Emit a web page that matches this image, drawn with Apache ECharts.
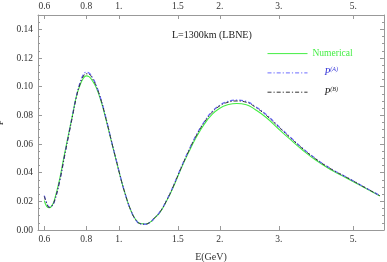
<!DOCTYPE html>
<html><head><meta charset="utf-8">
<script src="https://cdn.jsdelivr.net/npm/echarts@6/dist/echarts.min.js"></script>
<style>html,body{margin:0;padding:0;background:#fff}#c{width:387px;height:262px}</style>
</head><body><div id="c"></div>
<script>
// Energy (GeV)
const energies = [0.600,0.610,0.621,0.632,0.643,0.665,0.689,0.713,0.730,0.746,0.765,0.785,0.800,0.815,0.835,0.856,0.885,0.917,0.950,0.982,1.015,1.051,1.085,1.121,1.160,1.198,1.240,1.280,1.328,1.390,1.454,1.523,1.612,1.700,1.800,1.900,2.000,2.100,2.247,2.400,2.548,2.750,3.000,3.250,3.500,3.850,4.300,4.750,5.300,6.000];
const pNumerical = [0.0205,0.0165,0.0155,0.0170,0.0210,0.0345,0.0530,0.0700,0.0815,0.0925,0.1005,0.1060,0.1075,0.1070,0.1040,0.0995,0.0900,0.0767,0.0620,0.0488,0.0355,0.0232,0.0140,0.0075,0.0045,0.0042,0.0055,0.0085,0.0125,0.0205,0.0300,0.0412,0.0538,0.0645,0.0740,0.0808,0.0850,0.0872,0.0883,0.0874,0.0841,0.0785,0.0703,0.0630,0.0565,0.0490,0.0418,0.0365,0.0305,0.0237];
const pA = [0.0240,0.0190,0.0160,0.0168,0.0200,0.0330,0.0515,0.0695,0.0815,0.0925,0.1020,0.1085,0.1100,0.1095,0.1062,0.1010,0.0910,0.0775,0.0625,0.0490,0.0357,0.0233,0.0140,0.0074,0.0043,0.0040,0.0054,0.0086,0.0128,0.0210,0.0307,0.0420,0.0550,0.0660,0.0757,0.0828,0.0871,0.0895,0.0906,0.0896,0.0863,0.0805,0.0721,0.0646,0.0578,0.0500,0.0426,0.0371,0.0309,0.0240];
const pB = [0.0235,0.0185,0.0158,0.0168,0.0202,0.0332,0.0515,0.0690,0.0808,0.0917,0.1012,0.1075,0.1090,0.1087,0.1055,0.1005,0.0908,0.0772,0.0624,0.0490,0.0356,0.0233,0.0140,0.0075,0.0044,0.0041,0.0055,0.0086,0.0127,0.0208,0.0305,0.0417,0.0546,0.0656,0.0752,0.0823,0.0866,0.0889,0.0900,0.0891,0.0858,0.0800,0.0717,0.0642,0.0575,0.0498,0.0424,0.0370,0.0308,0.0239];
const xTickValues = [0.6,0.8,1,1.5,2,3,5];
const xTickLabels = ['0.6','0.8','1.','1.5','2.','3.','5.'];
const xRange = [0.5745, 6.17];
const yTickValues = [0,0.02,0.04,0.06,0.08,0.10,0.12,0.14];
const yMinorTicks = [0.005,0.01,0.015,0.025,0.03,0.035,0.045,0.05,0.055,0.065,0.07,0.075,0.085,0.09,0.095,0.105,0.11,0.115,0.125,0.13,0.135,0.145];
const yRange = [0, 0.15];

const FONT = '"Liberation Serif", "DejaVu Serif", serif';
const FRAME = '#999999';
const TXT = '#333333';
const GREEN = '#44ee44';
const BLUE = '#6b6bff';
const BLUE_TXT = '#3535d8';
const BLACK = '#333333';

const lg = v => Math.log10(v);
const xTickLog = xTickValues.map(lg);
const labelFor = v => {
  let best = 0, d = Infinity;
  xTickLog.forEach((t, i) => { const dd = Math.abs(t - v); if (dd < d) { d = dd; best = i; } });
  return xTickLabels[best];
};
const toData = arr => energies.map((e, i) => [lg(e), arr[i]]);

const xBase = (pos, showLabel) => ({
  type: 'value', gridIndex: 0, position: pos,
  min: lg(xRange[0]), max: lg(xRange[1]),
  splitLine: { show: false },
  axisLine: { show: true, onZero: false, lineStyle: { color: FRAME, width: 1 } },
  axisTick: { show: true, inside: true, length: 4, customValues: xTickLog, lineStyle: { color: FRAME } },
  axisLabel: { show: showLabel, customValues: xTickLog, formatter: labelFor, fontFamily: FONT, fontSize: 9.5, color: TXT, margin: 4 }
});

const yBase = (grid, pos, major, showLabel) => ({
  type: 'value', gridIndex: grid, position: pos,
  min: yRange[0], max: yRange[1],
  splitLine: { show: false },
  axisLine: { show: major, onZero: false, lineStyle: { color: FRAME, width: 1 } },
  axisTick: { show: true, inside: true, length: major ? 4 : 2, customValues: major ? yTickValues : yMinorTicks, lineStyle: { color: FRAME } },
  axisLabel: { show: showLabel, customValues: yTickValues, formatter: v => v.toFixed(2), fontFamily: FONT, fontSize: 9.5, color: TXT, margin: 5 }
});

const yLeft = yBase(0, 'left', true, true);
yLeft.name = 'P';
yLeft.nameLocation = 'middle';
yLeft.nameGap = 25;
yLeft.nameTextStyle = { fontFamily: FONT, fontSize: 10, color: TXT };

const xBottom = xBase('bottom', true);
xBottom.name = 'E(GeV)';
xBottom.nameLocation = 'middle';
xBottom.nameGap = 22;
xBottom.nameTextStyle = { fontFamily: FONT, fontSize: 10, color: TXT };

const gridRect = { left: 38, top: 15, right: 3, bottom: 32, containLabel: false, outerBoundsMode: 'none' };

const chart = echarts.init(document.getElementById('c'), null, { renderer: 'canvas' });
chart.setOption({
  animation: false,
  backgroundColor: '#ffffff',
  grid: [Object.assign({}, gridRect), Object.assign({}, gridRect)],
  xAxis: [
    xBottom,
    xBase('top', true),
    { type: 'value', gridIndex: 1, show: false, min: 0, max: 1 }
  ],
  yAxis: [
    yLeft,
    yBase(0, 'right', true, false),
    yBase(1, 'left', false, false),
    yBase(1, 'right', false, false)
  ],
  legend: {
    orient: 'vertical', left: 262, top: 43,
    itemWidth: 40, itemHeight: 14, itemGap: 7.7,
    selectedMode: false,
    itemStyle: { opacity: 0 },
    lineStyle: { width: 1 },
    data: ['Numerical', 'P(A)', 'P(B)'],
    formatter: name => name === 'Numerical' ? '{n|Numerical}' : (name === 'P(A)' ? '{pa|P}{sa|(A)}' : '{pb|P}{sb|(B)}'),
    textStyle: {
      rich: {
        n: { color: GREEN, fontFamily: FONT, fontSize: 9.5, lineHeight: 12 },
        pa: { color: BLUE_TXT, fontFamily: FONT, fontStyle: 'italic', fontSize: 9.5, lineHeight: 12, padding: [0, 0, 0, 12] },
        sa: { color: BLUE_TXT, fontFamily: FONT, fontStyle: 'italic', fontSize: 6, lineHeight: 6, verticalAlign: 'top' },
        pb: { color: '#222', fontFamily: FONT, fontStyle: 'italic', fontSize: 9.5, lineHeight: 12, padding: [0, 0, 0, 12] },
        sb: { color: '#222', fontFamily: FONT, fontStyle: 'italic', fontSize: 6, lineHeight: 6, verticalAlign: 'top' }
      }
    }
  },
  graphic: [{
    type: 'text', left: 172, top: 30,
    style: { text: 'L=1300km (LBNE)', font: '10px "Liberation Serif"', fill: '#222' }
  }],
  series: [
    { name: 'Numerical', type: 'line', xAxisIndex: 0, yAxisIndex: 0, data: toData(pNumerical), symbol: 'none', smooth: 0.5,
      lineStyle: { color: GREEN, width: 1.1 }, itemStyle: { color: GREEN } },
    { name: 'P(A)', type: 'line', xAxisIndex: 0, yAxisIndex: 0, data: toData(pA), symbol: 'none', smooth: 0.5,
      lineStyle: { color: BLUE, width: 1.3, type: [4, 2, 1.2, 2] }, itemStyle: { color: BLUE } },
    { name: 'P(B)', type: 'line', xAxisIndex: 0, yAxisIndex: 0, data: toData(pB), symbol: 'none', smooth: 0.5,
      lineStyle: { color: BLACK, width: 1, type: [4, 2, 1.2, 2] }, itemStyle: { color: BLACK } }
  ]
});
</script>
</body></html>
